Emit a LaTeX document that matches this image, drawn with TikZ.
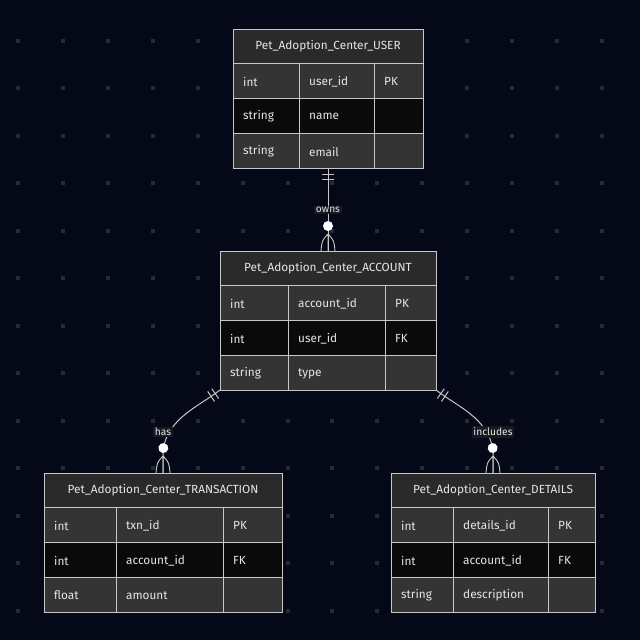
\documentclass[tikz,border=0pt]{standalone}
\usepackage{fontspec}
\setmainfont{Fira Sans}
\usetikzlibrary{decorations.markings}
\definecolor{bgc}{HTML}{050817}
\definecolor{dotc}{HTML}{262A36}
\definecolor{hdrc}{HTML}{2A2A2A}
\definecolor{rowa}{HTML}{343434}
\definecolor{rowb}{HTML}{0A0A0A}
\definecolor{linec}{HTML}{C8C8C8}
\definecolor{txtc}{HTML}{E6E6E6}
\definecolor{lblbg}{HTML}{171921}
\tikzset{
  cellbox/.style={draw=linec, line width=1pt, inner sep=0pt, outer sep=0pt},
  celltext/.style={text=txtc, font=\fontsize{11.8}{14}\selectfont, inner sep=0pt, anchor=west},
  hdrtext/.style={text=txtc, font=\fontsize{11.8}{14}\selectfont, inner sep=0pt},
  rel/.style={draw=linec, line width=1pt},
  lbl/.style={fill=lblbg, text=txtc, font=\fontsize{10.2}{12}\selectfont, inner sep=1.5pt},
  erlink/.style={postaction={decorate}, decoration={markings,
    mark=at position 6pt with {\draw[linec, line width=1pt] (0,-6) -- (0,6);},
    mark=at position 11pt with {\draw[linec, line width=1pt] (0,-6) -- (0,6);},
    mark=at position -25pt with {\fill[white] (0,0) circle (5pt);},
    mark=at position -0.5pt with {\draw[linec, line width=0.9pt]
        (-16.5,0) -- (0.5,0)
        (-16.5,0) .. controls (-10,6) .. (0.5,7)
        (-16.5,0) .. controls (-10,-6) .. (0.5,-7);}}}
}
\newcommand{\ertable}[8]{%
  \pgfmathsetmacro{\tw}{#4+#5+#6}%
  \node[cellbox, minimum width=\tw pt, minimum height=139pt, anchor=north west] (#1) at (#2,#3) {};
  \node[cellbox, fill=hdrc, minimum width=\tw pt, minimum height=34pt, anchor=north west] (#1-h) at (#2,#3) {};
  \node[hdrtext] (#1-ht) at (#1-h.center) {#7};
  \foreach \ta/\tb/\tc/\rf [count=\k] in {#8} {
    \pgfmathsetmacro{\ry}{#3+34+35*(\k-1)}
    \pgfmathsetmacro{\xb}{#2+#4}
    \pgfmathsetmacro{\xc}{#2+#4+#5}
    \node[cellbox, fill=\rf, minimum width=#4 pt, minimum height=35pt, anchor=north west] (#1-r\k-a) at (#2,\ry) {};
    \node[cellbox, fill=\rf, minimum width=#5 pt, minimum height=35pt, anchor=north west] (#1-r\k-b) at (\xb,\ry) {};
    \node[cellbox, fill=\rf, minimum width=#6 pt, minimum height=35pt, anchor=north west] (#1-r\k-c) at (\xc,\ry) {};
    \node[celltext] (#1-r\k-at) at ([xshift=10pt,yshift=-1pt]#1-r\k-a.west) {\ta};
    \node[celltext] (#1-r\k-bt) at ([xshift=10pt,yshift=-1pt]#1-r\k-b.west) {\tb};
    \node[celltext] (#1-r\k-ct) at ([xshift=10pt,yshift=-1pt]#1-r\k-c.west) {\tc};
  }
  \draw[linec, line width=1pt] (#1.north west) rectangle (#1.south east);
}
\begin{document}
\begin{tikzpicture}[x=1pt,y=-1pt]
\fill[bgc] (0,0) rectangle (640,640);
\useasboundingbox (0,0) rectangle (640,640);
\foreach \i in {0,...,13} \foreach \j in {0,...,12} {
  \fill[dotc] ({18.3+44.87*\i-2},{40.7+47.5*\j-2}) rectangle ({18.3+44.87*\i+2},{40.7+47.5*\j+2});
}
\ertable{user}{233}{29}{66}{75}{49}{Pet\_Adoption\_Center\_USER}{int/user\_id/PK/rowa, string/name/{}/rowb, string/email/{}/rowa}
\ertable{account}{220}{251}{68}{97}{51}{Pet\_Adoption\_Center\_ACCOUNT}{int/account\_id/PK/rowa, int/user\_id/FK/rowb, string/type/{}/rowa}
\ertable{trans}{44}{473}{72}{107}{59}{Pet\_Adoption\_Center\_TRANSACTION}{int/txn\_id/PK/rowa, int/account\_id/FK/rowb, float/amount/{}/rowa}
\ertable{details}{391}{473}{62}{95}{47}{Pet\_Adoption\_Center\_DETAILS}{int/details\_id/PK/rowa, int/account\_id/FK/rowb, string/description/{}/rowa}

\draw[rel, erlink] (user.south) -- (account.north);
\node[lbl] (l-owns) at (328,210) {owns};
\draw[rel, erlink] (account.south west) .. controls (198,407) and (168,418) .. (163,450) -- (trans.north);
\node[lbl] (l-has) at (163,432) {has};
\draw[rel, erlink] (account.south east) .. controls (458,407) and (488,418) .. (493,450) -- (details.north);
\node[lbl] (l-inc) at (493,432) {includes};
\end{tikzpicture}
\end{document}
